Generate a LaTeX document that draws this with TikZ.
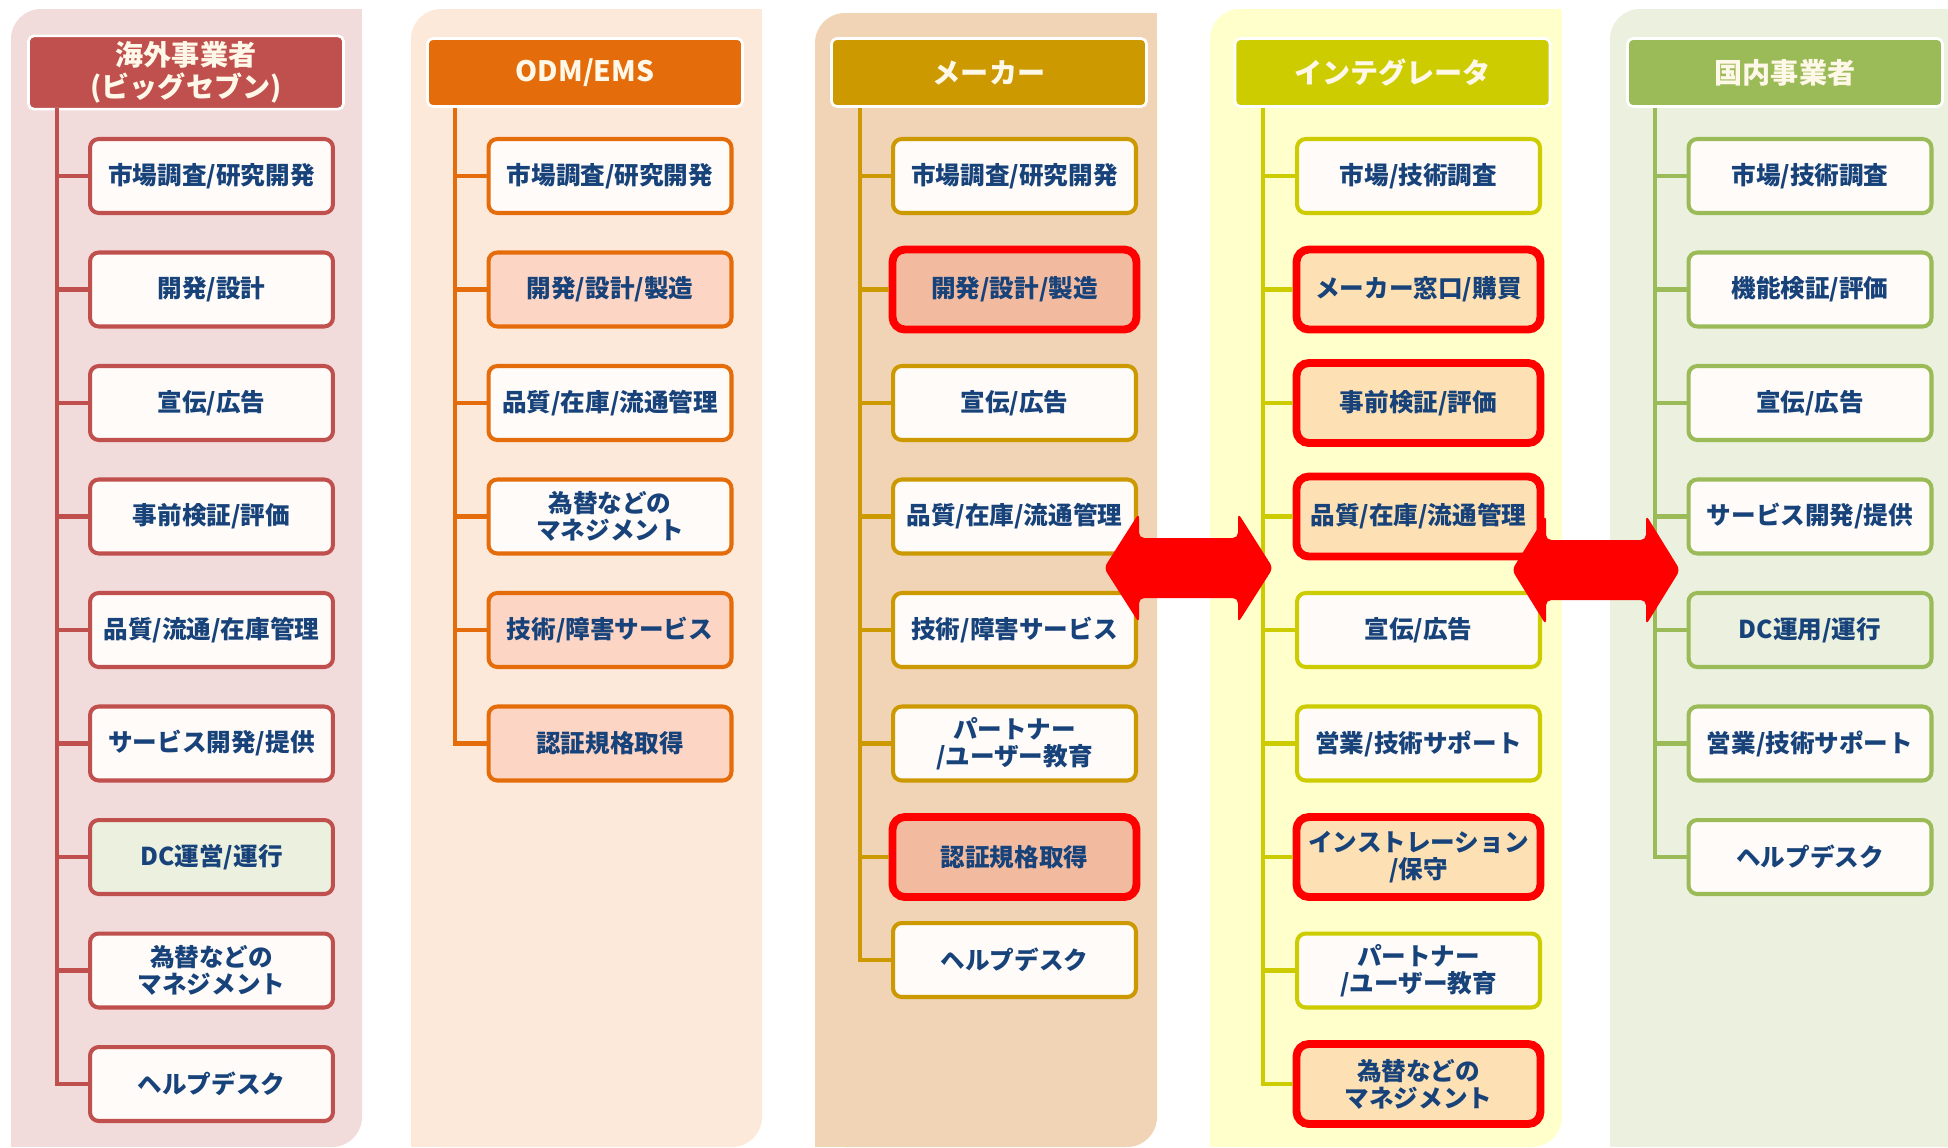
\documentclass[tikz,border=0pt]{standalone}
\usepackage{fontspec}
\setmainfont{Noto Sans CJK JP}
\usetikzlibrary{calc}

\definecolor{bgA}{HTML}{F2DCDB}
\definecolor{lnA}{HTML}{C0504D}
\definecolor{bgB}{HTML}{FDE9D9}
\definecolor{lnB}{HTML}{E46C0A}
\definecolor{hiB}{HTML}{FCD5C4}
\definecolor{bgC}{HTML}{F1D4B6}
\definecolor{lnC}{HTML}{CC9900}
\definecolor{hiC}{HTML}{F2BBA0}
\definecolor{bgD}{HTML}{FFFFCC}
\definecolor{lnD}{HTML}{CCCC00}
\definecolor{hiD}{HTML}{FDE1B4}
\definecolor{bgE}{HTML}{EBF1DE}
\definecolor{lnE}{HTML}{9BBB59}
\definecolor{txtblue}{HTML}{17427A}
\definecolor{boxwhite}{HTML}{FEFBF8}
\definecolor{headtxt}{HTML}{FFF8E8}

\tikzset{
  head/.style={rounded corners=3pt, draw=white, line width=1.5pt, minimum width=6.3cm,
    minimum height=1.36cm, text=headtxt, align=center,
    font=\fontsize{16}{18}\selectfont\bfseries},
  item/.style={rounded corners=5pt, line width=2.3pt, minimum width=4.86cm,
    minimum height=1.48cm, fill=boxwhite, text=txtblue, align=center,
    font=\fontsize{14}{15.5}\selectfont\bfseries},
  redbox/.style={draw=red, line width=4.5pt, rounded corners=7pt, minimum width=4.88cm,
    minimum height=1.6cm},
  trunk/.style={line width=2.3pt},
  bigarrow/.style={fill=red, rounded corners=3pt}
}

\begin{document}
\begin{tikzpicture}[x=0.02cm, y=-0.02cm]
  \useasboundingbox (0,0) rectangle (1948,1147);

  %%%%% panels %%%%%
  \fill[bgA, rounded corners=0.6cm] (11,9) rectangle (362,1147);
  \fill[bgA] (300,9) rectangle (362,80);
  \fill[bgA] (11,1080) rectangle (80,1147);

  \fill[bgB, rounded corners=0.6cm] (411,9) rectangle (762,1147);
  \fill[bgB] (700,9) rectangle (762,80);
  \fill[bgB] (411,1080) rectangle (480,1147);

  \fill[bgC, rounded corners=0.6cm] (815,13) rectangle (1157,1147);
  \fill[bgC] (1095,13) rectangle (1157,80);
  \fill[bgC] (815,1080) rectangle (880,1147);

  \fill[bgD, rounded corners=0.6cm] (1210,9) rectangle (1562,1147);
  \fill[bgD] (1500,9) rectangle (1562,80);
  \fill[bgD] (1210,1080) rectangle (1280,1147);

  \fill[bgE, rounded corners=0.6cm] (1610,9) rectangle (1980,1147);
  \fill[bgE] (1610,1080) rectangle (1680,1147);

  %%%%% headers %%%%%
  \node[head, fill=lnA] (ha) at (186,72.5) {海外事業者\\(ビッグセブン)};
  \node[head, fill=lnB] (hb) at (585,72.5) {ODM/EMS};
  \node[head, fill=lnC] (hc) at (989,72.5) {メーカー};
  \node[head, fill=lnD] (hd) at (1392.5,72.5) {インテグレータ};
  \node[head, fill=lnE] (he) at (1785,72.5) {国内事業者};

  \coordinate (ta) at (57,108);
  \coordinate (tb) at (455,108);
  \coordinate (tc) at (860,108);
  \coordinate (td) at (1263,108);
  \coordinate (te) at (1655,108);

  %%%%% 海外事業者 %%%%%
  \node[item, draw=lnA] (a1) at (211.5,176) {市場調査/研究開発};
  \node[item, draw=lnA] (a2) at (211.5,289.5) {開発/設計};
  \node[item, draw=lnA] (a3) at (211.5,403) {宣伝/広告};
  \node[item, draw=lnA] (a4) at (211.5,516.5) {事前検証/評価};
  \node[item, draw=lnA] (a5) at (211.5,630) {品質/流通/在庫管理};
  \node[item, draw=lnA] (a6) at (211.5,743.5) {サービス開発/提供};
  \node[item, draw=lnA, fill=bgE] (a7) at (211.5,857) {DC運営/運行};
  \node[item, draw=lnA] (a8) at (211.5,970.5) {為替などの\\マネジメント};
  \node[item, draw=lnA] (a9) at (211.5,1084) {ヘルプデスク};
  \draw[trunk, lnA] (ta) |- (a9.west);
  \foreach \i in {1,...,8} \draw[trunk, lnA] (a\i.west) -- (ta |- a\i.west);

  %%%%% ODM/EMS %%%%%
  \node[item, draw=lnB] (b1) at (610,176) {市場調査/研究開発};
  \node[item, draw=lnB, fill=hiB] (b2) at (610,289.5) {開発/設計/製造};
  \node[item, draw=lnB] (b3) at (610,403) {品質/在庫/流通管理};
  \node[item, draw=lnB] (b4) at (610,516.5) {為替などの\\マネジメント};
  \node[item, draw=lnB, fill=hiB] (b5) at (610,630) {技術/障害サービス};
  \node[item, draw=lnB, fill=hiB] (b6) at (610,743.5) {認証規格取得};
  \draw[trunk, lnB] (tb) |- (b6.west);
  \foreach \i in {1,...,5} \draw[trunk, lnB] (b\i.west) -- (tb |- b\i.west);

  %%%%% メーカー %%%%%
  \node[item, draw=lnC] (c1) at (1014.5,176) {市場調査/研究開発};
  \node[item, redbox, fill=hiC] (c2) at (1014.5,289.5) {開発/設計/製造};
  \node[item, draw=lnC] (c3) at (1014.5,403) {宣伝/広告};
  \node[item, draw=lnC] (c4) at (1014.5,516.5) {品質/在庫/流通管理};
  \node[item, draw=lnC] (c5) at (1014.5,630) {技術/障害サービス};
  \node[item, draw=lnC] (c6) at (1014.5,743.5) {パートナー\\/ユーザー教育};
  \node[item, redbox, fill=hiC] (c7) at (1014.5,857) {認証規格取得};
  \node[item, draw=lnC] (c8) at (1014.5,960) {ヘルプデスク};
  \draw[trunk, lnC] (tc) |- (c8.west);
  \foreach \i in {1,...,7} \draw[trunk, lnC] (c\i.west) -- (tc |- c\i.west);

  %%%%% インテグレータ %%%%%
  \node[item, draw=lnD] (d1) at (1418.5,176) {市場/技術調査};
  \node[item, redbox, fill=hiD] (d2) at (1418.5,289.5) {メーカー窓口/購買};
  \node[item, redbox, fill=hiD] (d3) at (1418.5,403) {事前検証/評価};
  \node[item, redbox, fill=hiD] (d4) at (1418.5,516.5) {品質/在庫/流通管理};
  \node[item, draw=lnD] (d5) at (1418.5,630) {宣伝/広告};
  \node[item, draw=lnD] (d6) at (1418.5,743.5) {営業/技術サポート};
  \node[item, redbox, fill=hiD] (d7) at (1418.5,857) {インストレーション\\/保守};
  \node[item, draw=lnD] (d8) at (1418.5,970.5) {パートナー\\/ユーザー教育};
  \node[item, redbox, fill=hiD] (d9) at (1418.5,1084) {為替などの\\マネジメント};
  \draw[trunk, lnD] (td) |- (d9.west);
  \foreach \i in {1,...,8} \draw[trunk, lnD] (d\i.west) -- (td |- d\i.west);

  %%%%% 国内事業者 %%%%%
  \node[item, draw=lnE] (e1) at (1810,176) {市場/技術調査};
  \node[item, draw=lnE] (e2) at (1810,289.5) {機能検証/評価};
  \node[item, draw=lnE] (e3) at (1810,403) {宣伝/広告};
  \node[item, draw=lnE] (e4) at (1810,516.5) {サービス開発/提供};
  \node[item, draw=lnE, fill=bgE] (e5) at (1810,630) {DC運用/運行};
  \node[item, draw=lnE] (e6) at (1810,743.5) {営業/技術サポート};
  \node[item, draw=lnE] (e7) at (1810,857) {ヘルプデスク};
  \draw[trunk, lnE] (te) |- (e7.west);
  \foreach \i in {1,...,6} \draw[trunk, lnE] (e\i.west) -- (te |- e\i.west);

  %%%%% arrows %%%%%
  \fill[bigarrow] (1104,568) -- (1139,513) -- (1139,538) -- (1238,538) -- (1238,513)
    -- (1273,568) -- (1238,623) -- (1238,598) -- (1139,598) -- (1139,623) -- cycle;
  \fill[bigarrow] (1512,570) -- (1546,515) -- (1546,540) -- (1646,540) -- (1646,515)
    -- (1680,570) -- (1646,625) -- (1646,600) -- (1546,600) -- (1546,625) -- cycle;
\end{tikzpicture}
\end{document}
